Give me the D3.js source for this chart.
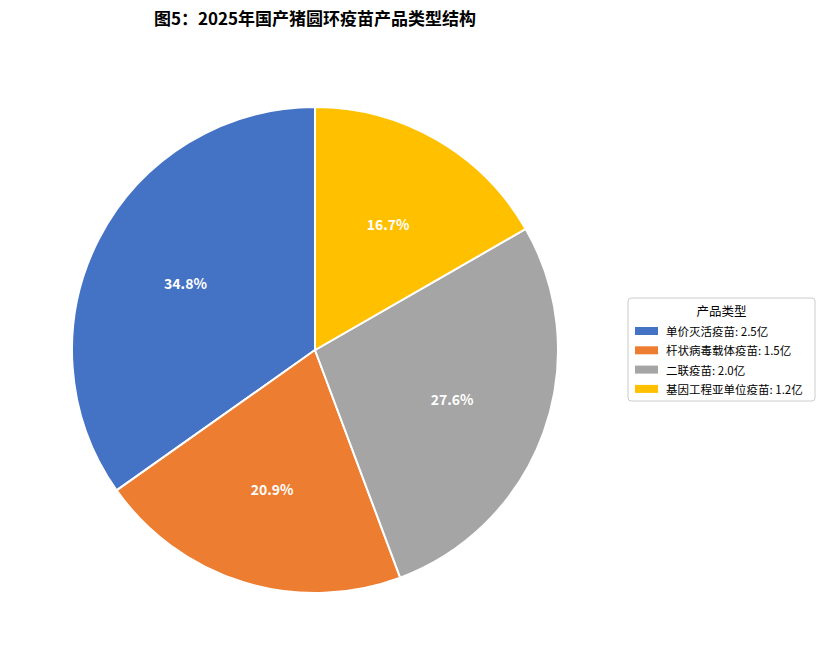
<!DOCTYPE html>
<html><head><meta charset="utf-8">
<script src="https://cdn.jsdelivr.net/npm/d3@7/dist/d3.min.js"></script>
<style>body{margin:0;background:#fff;font-family:"Noto Sans CJK SC","Noto Sans",sans-serif}</style>
</head><body><svg id="c" width="825" height="666"></svg>
<script>
const categories = ["单价灭活疫苗","杆状病毒载体疫苗","二联疫苗","基因工程亚单位疫苗"];
const valuesYi = [2.5, 1.5, 2.0, 1.2];
const sharePct = [34.8, 20.9, 27.6, 16.7];
const colors = ["#4472C4","#ED7D31","#A5A5A5","#FFC000"];
const title = "图5：2025年国产猪圆环疫苗产品类型结构";
const legendTitle = "产品类型";

const svg = d3.select("#c");
const cx = 315, cy = 350, R = 243;
svg.append("text").attr("x", 315).attr("y", 25).attr("text-anchor","middle")
  .attr("font-size", 17).attr("font-weight","bold").text(title);

const pie = d3.pie().sort(null).startAngle(0).endAngle(-2*Math.PI);
const arcs = pie(sharePct);
const arc = d3.arc().innerRadius(0).outerRadius(R);
const labArc = d3.arc().innerRadius(R*0.6).outerRadius(R*0.6);
const g = svg.append("g").attr("transform", `translate(${cx},${cy})`);
g.selectAll("path").data(arcs).join("path").attr("d", arc)
  .attr("fill", (d,i)=>colors[i]).attr("stroke","#fff").attr("stroke-width",2);
g.selectAll("text").data(arcs).join("text")
  .attr("transform", d=>`translate(${labArc.centroid(d)})`)
  .attr("text-anchor","middle").attr("dominant-baseline","central")
  .attr("fill","#fff").attr("font-weight","bold").attr("font-size",14)
  .text(d=>d.data.toFixed(1)+"%");

const lg = svg.append("g").attr("transform","translate(628,298)");
lg.append("rect").attr("width",187).attr("height",103).attr("rx",3)
  .attr("fill","#fff").attr("stroke","#ccc");
lg.append("text").attr("x",93.5).attr("y",18).attr("text-anchor","middle")
  .attr("font-size",12.5).text(legendTitle);
categories.forEach((c,i)=>{
  const y = 33 + i*19.3;
  lg.append("rect").attr("x",7).attr("y",y-4).attr("width",23).attr("height",8).attr("fill",colors[i]);
  lg.append("text").attr("x",38).attr("y",y).attr("dominant-baseline","central")
    .attr("font-size",11.5).text(`${c}: ${valuesYi[i].toFixed(1)}亿`);
});
</script></body></html>
